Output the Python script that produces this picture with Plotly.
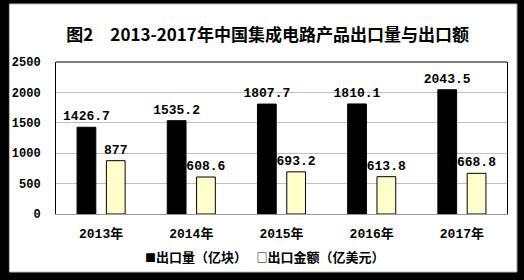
import plotly.graph_objects as go

categories = ["2013年", "2014年", "2015年", "2016年", "2017年"]
export_volume = [1426.7, 1535.2, 1807.7, 1810.1, 2043.5]
export_value = [877, 608.6, 693.2, 613.8, 668.8]
volume_labels = ["1426.7", "1535.2", "1807.7", "1810.1", "2043.5"]
value_labels = ["877", "608.6", "693.2", "613.8", "668.8"]
y_ticks = [0, 500, 1000, 1500, 2000, 2500]
series_names = ["出口量（亿块）", "出口金额（亿美元）"]

num_font = "Liberation Mono, Noto Sans CJK SC, monospace"
cjk_font = "Noto Sans CJK SC, Liberation Mono, sans-serif"

fig = go.Figure()
fig.add_trace(go.Bar(
    x=categories, y=export_volume, name=series_names[0],
    marker=dict(color="#000000", line=dict(color="#000000", width=1)),
    text=volume_labels, textposition="outside", cliponaxis=False, constraintext="none",
    textfont=dict(family=num_font, size=13, color="#000000", weight="bold"),
))
fig.add_trace(go.Bar(
    x=categories, y=export_value, name=series_names[1],
    marker=dict(color="#FFFFCC", line=dict(color="#000000", width=1)),
    text=value_labels, textposition="outside", cliponaxis=False, constraintext="none",
    textfont=dict(family=num_font, size=13, color="#000000", weight="bold"),
))

W0, H0 = 455.0, 152.0  # plot area size in px
L, T = 52, 62

def px_x(p):
    return (p - L) / W0

def px_y(p):
    return (T + H0 - p) / H0

legend_text = ("<span style='font-size:11px'>■</span>" + series_names[0] + "　 "
               + "<span style='font-size:11px'>□</span>" + series_names[1])

fig.update_layout(
    width=524, height=280,
    margin=dict(l=L, r=524 - L - 455, t=T, b=280 - T - 152, pad=0),
    paper_bgcolor="#000000", plot_bgcolor="#FFFFFF",
    barmode="group", bargap=0.35, bargroupgap=0.36,
    showlegend=False,
    title=dict(
        text="图2　2013-2017年中国集成电路产品出口量与出口额",
        x=px_x(265.5), xanchor="center", xref="paper",
        y=1 - 35.5 / 280, yanchor="middle", yref="container",
        font=dict(family=cjk_font, size=17, color="#000000", weight="bold"),
    ),
    xaxis=dict(
        showline=True, linecolor="#999999", linewidth=1, mirror=False,
        ticks="", ticklabelstandoff=7,
        tickfont=dict(family=num_font, size=13, color="#000000", weight="bold"),
        showgrid=False,
    ),
    yaxis=dict(
        range=[0, 2500], tickvals=y_ticks, showgrid=True, gridcolor="#C0C0C0", gridwidth=1,
        showline=True, linecolor="#000000", linewidth=1, mirror=True,
        zeroline=False, ticks="", ticklabelstandoff=12,
        tickfont=dict(family=num_font, size=12, color="#000000", weight="bold"),
    ),
    annotations=[
        dict(text=legend_text, xref="paper", yref="paper", x=px_x(262), y=px_y(256),
             xanchor="center", yanchor="middle", showarrow=False,
             font=dict(family=cjk_font, size=13, color="#000000", weight="bold")),
    ],
    shapes=[
        dict(type="rect", xref="paper", yref="paper", layer="below",
             x0=px_x(5), x1=px_x(517), y0=px_y(272), y1=px_y(4),
             fillcolor="#FFFFFF", line=dict(color="#BBBBBB", width=1)),
        dict(type="line", xref="paper", yref="paper", x0=0, x1=1, y0=1, y1=1,
             line=dict(color="#000000", width=1)),
    ],
)

fig.write_html("out.html")
